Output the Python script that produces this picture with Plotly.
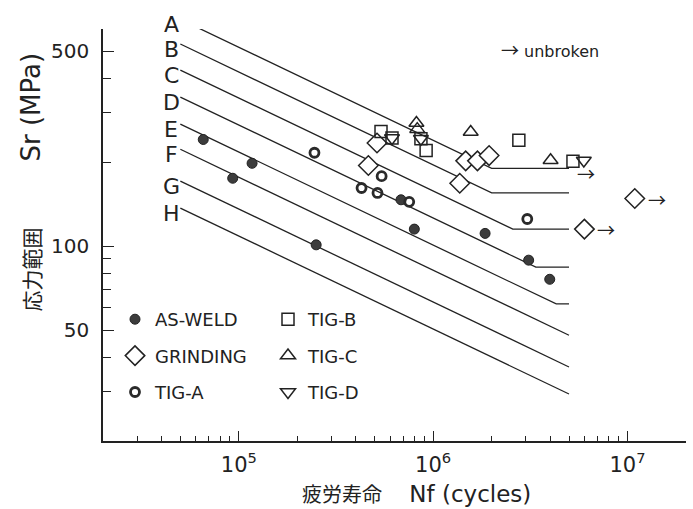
import math
import plotly.graph_objects as go

# ---------------- data ----------------
categories = ["A", "B", "C", "D", "E", "F", "G", "H"]
cat_strength_2e6 = [190, 155, 125, 100, 80, 65, 50, 40]   # MPa at 2x10^6 cycles
cat_cutoff = [190, 155, 115, 84, 62, 46, 32, 23]          # constant-amplitude limit
line_N_start = 5e4
line_N_end = 5e6
label_N = 4.5e4

as_weld_N = [6.56e4, 9.3e4, 1.17e5, 2.50e5, 6.83e5, 8.0e5, 1.85e6, 3.10e6, 3.98e6]
as_weld_S = [241, 175, 198, 101, 146.5, 115, 111, 89, 76]

grinding_N = [5.14e5, 4.64e5, 1.47e6, 1.69e6, 1.94e6, 1.37e6, 1.09e7, 6.0e6]
grinding_S = [234, 194.5, 202, 202, 211, 168, 148, 115]
grinding_unbroken = [False, False, False, False, False, False, True, True]

tig_a_N = [2.45e5, 4.28e5, 5.17e5, 5.43e5, 7.53e5, 3.05e6]
tig_a_S = [216, 161.5, 155, 178, 144, 125]

tig_b_N = [5.39e5, 6.14e5, 8.65e5, 9.2e5, 2.76e6, 5.24e6]
tig_b_S = [257.6, 244, 242.6, 220, 239.4, 201.5]
tig_b_unbroken = [False, False, False, False, False, True]

tig_c_N = [8.2e5, 8.28e5, 1.56e6, 4.02e6]
tig_c_S = [276, 262.5, 256.5, 203]

tig_d_N = [6.14e5, 8.65e5, 5.96e6]
tig_d_S = [244, 242.6, 202.7]

x_tick_vals = [1e5, 1e6, 1e7]
x_tick_text = ["10<sup>5</sup>", "10<sup>6</sup>", "10<sup>7</sup>"]
y_tick_vals = [50, 100, 500]
y_tick_text = ["50", "100", "500"]

X_RANGE = [math.log10(2e4), math.log10(2e7)]
Y_RANGE = [math.log10(20), math.log10(600)]

FONT = "DejaVu Sans, Noto Sans CJK JP, sans-serif"
ARROW_FONT = "Noto Sans CJK JP, DejaVu Sans, sans-serif"
INK = "#222"

fig = go.Figure()


def s_at(S2, N):
    return S2 * (2e6 / N) ** (1.0 / 3.0)


def px(v):
    return (math.log10(v) - X_RANGE[0]) / (X_RANGE[1] - X_RANGE[0])


def py(v):
    return (math.log10(v) - Y_RANGE[0]) / (Y_RANGE[1] - Y_RANGE[0])


# ---------------- design lines A-H ----------------
label_ann = []
for cat, S2, cut in zip(categories, cat_strength_2e6, cat_cutoff):
    Nk = 2e6 * (S2 / cut) ** 3
    if Nk < line_N_end:
        xs = [line_N_start, Nk, line_N_end]
        ys = [s_at(S2, line_N_start), cut, cut]
    else:
        xs = [line_N_start, line_N_end]
        ys = [s_at(S2, line_N_start), s_at(S2, line_N_end)]
    fig.add_trace(go.Scatter(x=xs, y=ys, mode="lines",
                             line=dict(color=INK, width=1.3),
                             showlegend=False, hoverinfo="skip"))
    label_ann.append(dict(x=px(label_N), y=py(s_at(S2, line_N_start)),
                          xref="paper", yref="paper", text=cat, showarrow=False,
                          xanchor="center", yanchor="middle", yshift=-5,
                          font=dict(family=FONT, size=22, color=INK)))


# ---------------- data series ----------------
def add_series(name, N, S, symbol, size, legend, group, fill="white", lw=1.5):
    fig.add_trace(go.Scatter(
        x=N, y=S, mode="markers", name=name, legend=legend, legendgroup=group,
        marker=dict(symbol=symbol, size=size, color=fill,
                    line=dict(color=INK, width=lw)),
        cliponaxis=False))


add_series("AS-WELD", as_weld_N, as_weld_S, "circle", 10, "legend", "g1", fill="#3c3c3c", lw=1)
add_series("GRINDING", grinding_N, grinding_S, "diamond", 15, "legend", "g2")
add_series("TIG-A", tig_a_N, tig_a_S, "circle-open", 9, "legend", "g3", fill="#2a2a2a", lw=2.8)
add_series("TIG-B", tig_b_N, tig_b_S, "square-open", 12, "legend2", "g4", fill=INK)
add_series("TIG-C", tig_c_N, tig_c_S, "triangle-up-open", 13, "legend2", "g5", fill=INK)
add_series("TIG-D", tig_d_N, tig_d_S, "triangle-down-open", 13, "legend2", "g6", fill=INK)

# ---------------- run-out arrows ----------------
arrow_ann = []
for N, S, u in zip(grinding_N, grinding_S, grinding_unbroken):
    if u:
        arrow_ann.append(dict(x=math.log10(N), y=math.log10(S), xref="x", yref="y",
                              text="→", showarrow=False, xshift=22,
                              xanchor="center", yanchor="middle",
                              font=dict(family=ARROW_FONT, size=18, color=INK)))
for N, S, u in zip(tig_b_N, tig_b_S, tig_b_unbroken):
    if u:
        arrow_ann.append(dict(x=math.log10(N), y=math.log10(S), xref="x", yref="y",
                              text="→", showarrow=False, xshift=13, yshift=-12,
                              xanchor="center", yanchor="middle",
                              font=dict(family=ARROW_FONT, size=18, color=INK)))

other_ann = [
    dict(x=(550 - 103) / 583, y=(441 - 49) / 412, xref="paper", yref="paper", showarrow=False,
         xanchor="center", yanchor="middle",
         text="<span style='font-family:Noto Sans CJK JP;font-size:18px'>→</span> unbroken",
         font=dict(family=FONT, size=16, color=INK)),
    dict(x=(417 - 103) / 583, y=(441 - 494) / 412, xref="paper", yref="paper", showarrow=False,
         xanchor="center", yanchor="middle",
         text="<span style='font-size:20px'>疲労寿命\u3000</span> Nf (cycles)",
         font=dict(family=FONT, size=23, color=INK)),
    dict(x=(30 - 103) / 583, y=(441 - 182.5) / 412, xref="paper", yref="paper", showarrow=False,
         xanchor="center", yanchor="middle", textangle=-90,
         text="<span style='font-size:21px'>応力範囲</span>"
              "<span style='font-size:22px'>\u3000\u3000\u3000</span>Sr (MPa)",
         font=dict(family=FONT, size=26, color=INK)),
]

x_minor = [m * 10 ** e for e in (4, 5, 6) for m in range(2, 10) if m * 10 ** e >= 2e4] + [2e7]
y_minor = [20, 30, 40, 60, 70, 80, 90, 200, 300, 400, 600]

fig.update_layout(
    width=693, height=509,
    margin=dict(l=103, r=7, t=29, b=68),
    paper_bgcolor="white", plot_bgcolor="white",
    font=dict(family=FONT, color=INK),
    annotations=label_ann + arrow_ann + other_ann,
    legend=dict(x=(115 - 103) / 583, y=(441 - 301) / 412, xanchor="left", yanchor="top",
                bgcolor="rgba(0,0,0,0)", tracegroupgap=10,
                font=dict(family=FONT, size=18, color=INK)),
    legend2=dict(x=(268 - 103) / 583, y=(441 - 301) / 412, xanchor="left", yanchor="top",
                 bgcolor="rgba(0,0,0,0)", tracegroupgap=10,
                 font=dict(family=FONT, size=18, color=INK)),
    xaxis=dict(type="log", range=X_RANGE,
               showline=True, linecolor=INK, linewidth=1.5,
               showgrid=False, zeroline=False,
               ticks="inside", ticklen=10, tickwidth=1.2, tickcolor=INK,
               tickvals=x_tick_vals, ticktext=x_tick_text,
               tickfont=dict(family=FONT, size=21, color=INK),
               ticklabelstandoff=4,
               minor=dict(ticks="inside", ticklen=5, tickwidth=1, tickcolor=INK,
                          tickvals=x_minor, showgrid=False)),
    yaxis=dict(type="log", range=Y_RANGE,
               showline=True, linecolor=INK, linewidth=1.5,
               showgrid=False, zeroline=False,
               ticks="inside", ticklen=11, tickwidth=1.2, tickcolor=INK,
               tickvals=y_tick_vals, ticktext=y_tick_text,
               tickfont=dict(family=FONT, size=20, color=INK),
               ticklabelstandoff=8,
               minor=dict(ticks="inside", ticklen=8, tickwidth=1, tickcolor=INK,
                          tickvals=y_minor, showgrid=False)),
)

fig.write_html("out.html", config={"displayModeBar": False},
               post_script="document.body.style.margin='0px';")
